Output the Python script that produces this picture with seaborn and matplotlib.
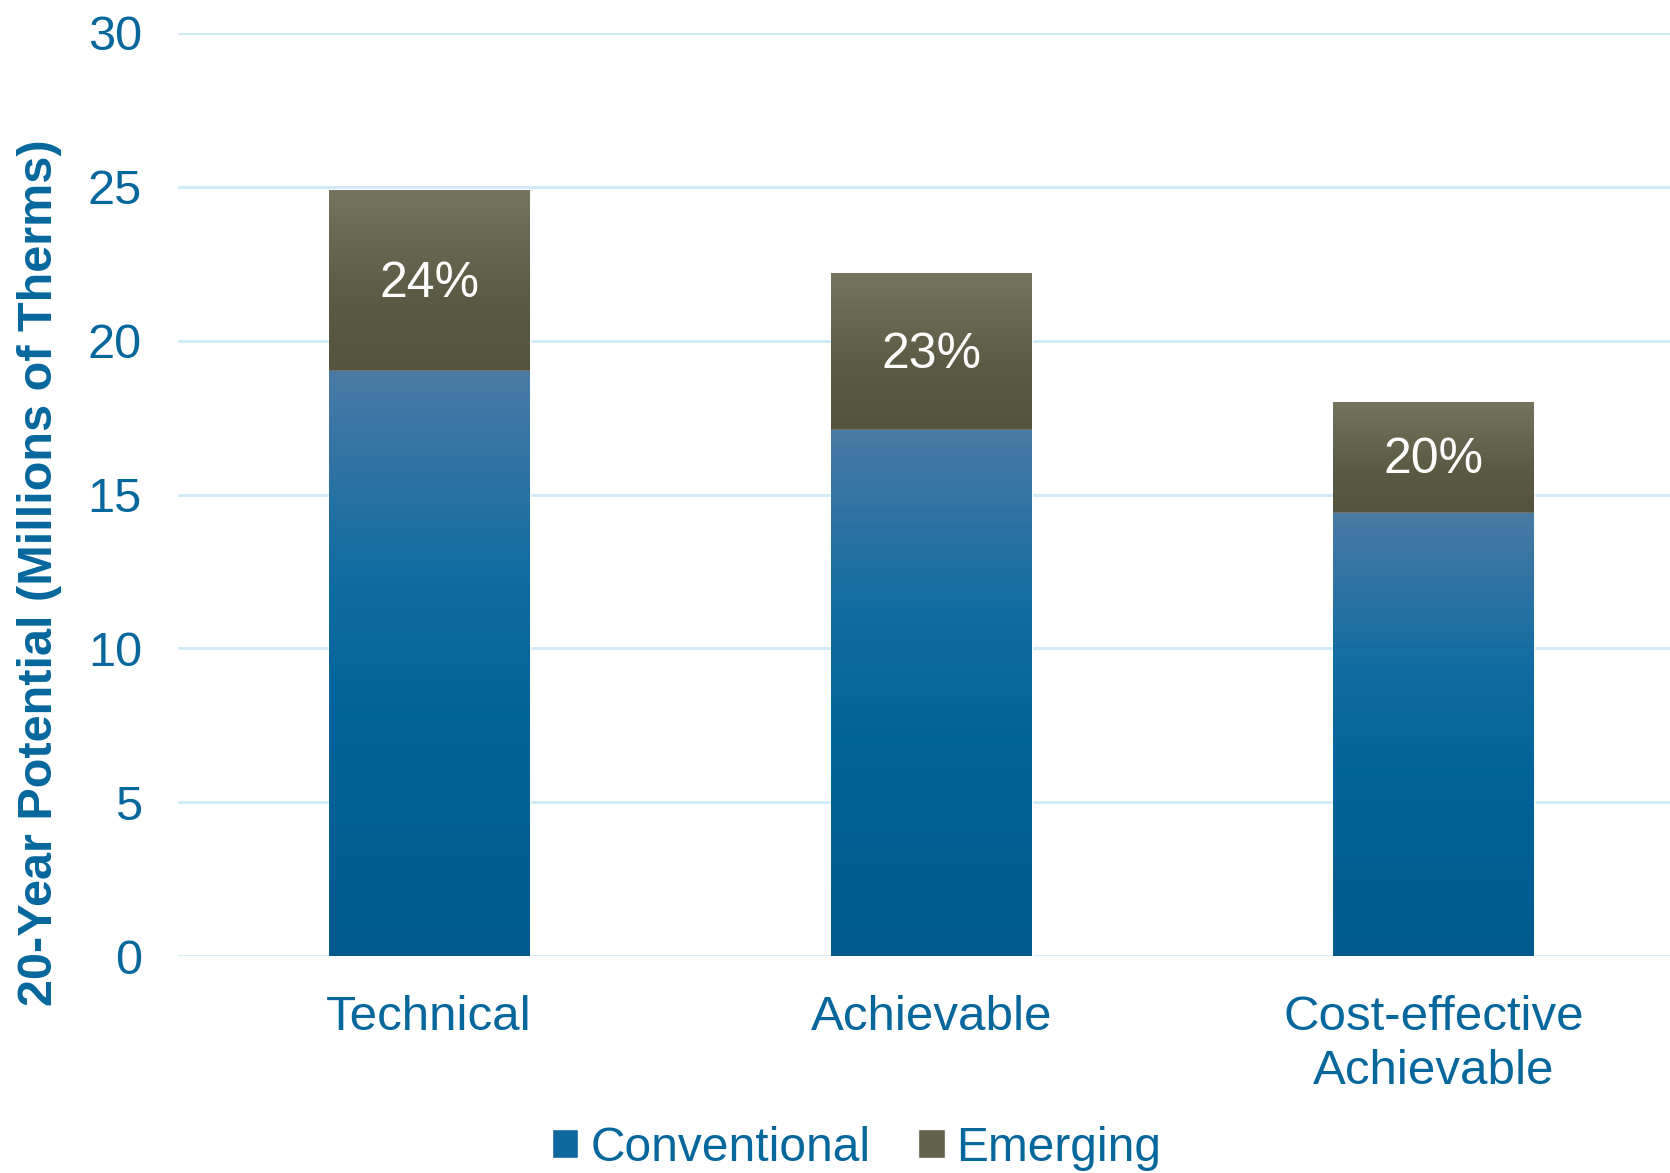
import numpy as np
import pandas as pd
import matplotlib
matplotlib.use('Agg')
import matplotlib.pyplot as plt
import seaborn as sns
from matplotlib.colors import LinearSegmentedColormap
from matplotlib.patches import Patch

# Data (millions of therms)
categories = ['Technical', 'Achievable', 'Cost-effective\nAchievable']
conventional = [19.0, 17.1, 14.4]
emerging = [5.9, 5.1, 3.6]
pct_labels = ['24%', '23%', '20%']

total = [c + e for c, e in zip(conventional, emerging)]
df = pd.DataFrame({'category': categories, 'conventional': conventional,
                   'emerging': emerging, 'total': total})

text_color = '#05679c'
grid_color = '#cfeaf7'

sns.set_theme(style='white')
plt.rcParams['font.family'] = ['Liberation Sans', 'DejaVu Sans']

fig = plt.figure(figsize=(16.7, 11.73), dpi=100)
ax = fig.add_axes([178 / 1670, 1 - 956 / 1173, 1 - 178 / 1670, (956 - 33) / 1173])

# Stacked bars: total (emerging on top) then conventional in front
sns.barplot(data=df, x='category', y='total', color='#5f5e48', width=0.4,
            ax=ax, zorder=2)
sns.barplot(data=df, x='category', y='conventional', color='#00639a', width=0.4,
            ax=ax, zorder=3)

# Gradient fills clipped to each bar segment
cmap_conv = LinearSegmentedColormap.from_list(
    'conv', [(0, '#4a7aa5'), (0.35, '#106ca2'), (0.6, '#00639a'), (1, '#005a8d')])
cmap_emer = LinearSegmentedColormap.from_list(
    'emer', [(0, '#75755f'), (0.6, '#5b5a44'), (1, '#54533d')])
grad = np.linspace(0, 1, 256).reshape(-1, 1)

n = len(categories)
emer_patches = ax.patches[:n]
conv_patches = ax.patches[n:2 * n]
for i in range(n):
    p = emer_patches[i]
    x0 = p.get_x()
    w = p.get_width()
    im = ax.imshow(grad, aspect='auto', cmap=cmap_emer, origin='upper',
                   extent=(x0, x0 + w, conventional[i], total[i]),
                   zorder=2.5, interpolation='bilinear')
    im.set_clip_path(p)
    p2 = conv_patches[i]
    im2 = ax.imshow(grad, aspect='auto', cmap=cmap_conv, origin='upper',
                    extent=(x0, x0 + w, 0, conventional[i]),
                    zorder=3.5, interpolation='bilinear')
    im2.set_clip_path(p2)
    ax.text(i, conventional[i] + emerging[i] * 0.48, pct_labels[i],
            ha='center', va='center', color='white', fontsize=36, zorder=5)

ax.set_xlim(-0.5, 2.47)
ax.set_ylim(0, 30)
ax.set_yticks(range(0, 31, 5))
ax.yaxis.grid(True, color=grid_color, linewidth=2, zorder=0)
ax.set_axisbelow(True)
for s in ax.spines.values():
    s.set_visible(False)

ax.tick_params(axis='both', length=0, labelcolor=text_color)
ax.tick_params(axis='y', pad=26, labelsize=35)
ax.tick_params(axis='x', pad=28, labelsize=35.5)
ax.set_xlabel('')
ax.set_ylabel('20-Year Potential (Millions of Therms)', fontsize=35,
              fontweight='bold', color=text_color)
ax.yaxis.set_label_coords(-0.078, 0.415)
for lbl in ax.get_xticklabels():
    lbl.set_linespacing(1.25)

handles = [Patch(facecolor='#0d67a0', label='Conventional'),
           Patch(facecolor='#62614b', label='Emerging')]
leg = fig.legend(handles=handles, loc='center', ncol=2,
                 bbox_to_anchor=(0.513, 0.021), frameon=False,
                 fontsize=34.5, handlelength=0.55, handleheight=0.55,
                 handletextpad=0.25, columnspacing=1.0)
for t in leg.get_texts():
    t.set_color(text_color)

fig.savefig('out.png', dpi=100)
